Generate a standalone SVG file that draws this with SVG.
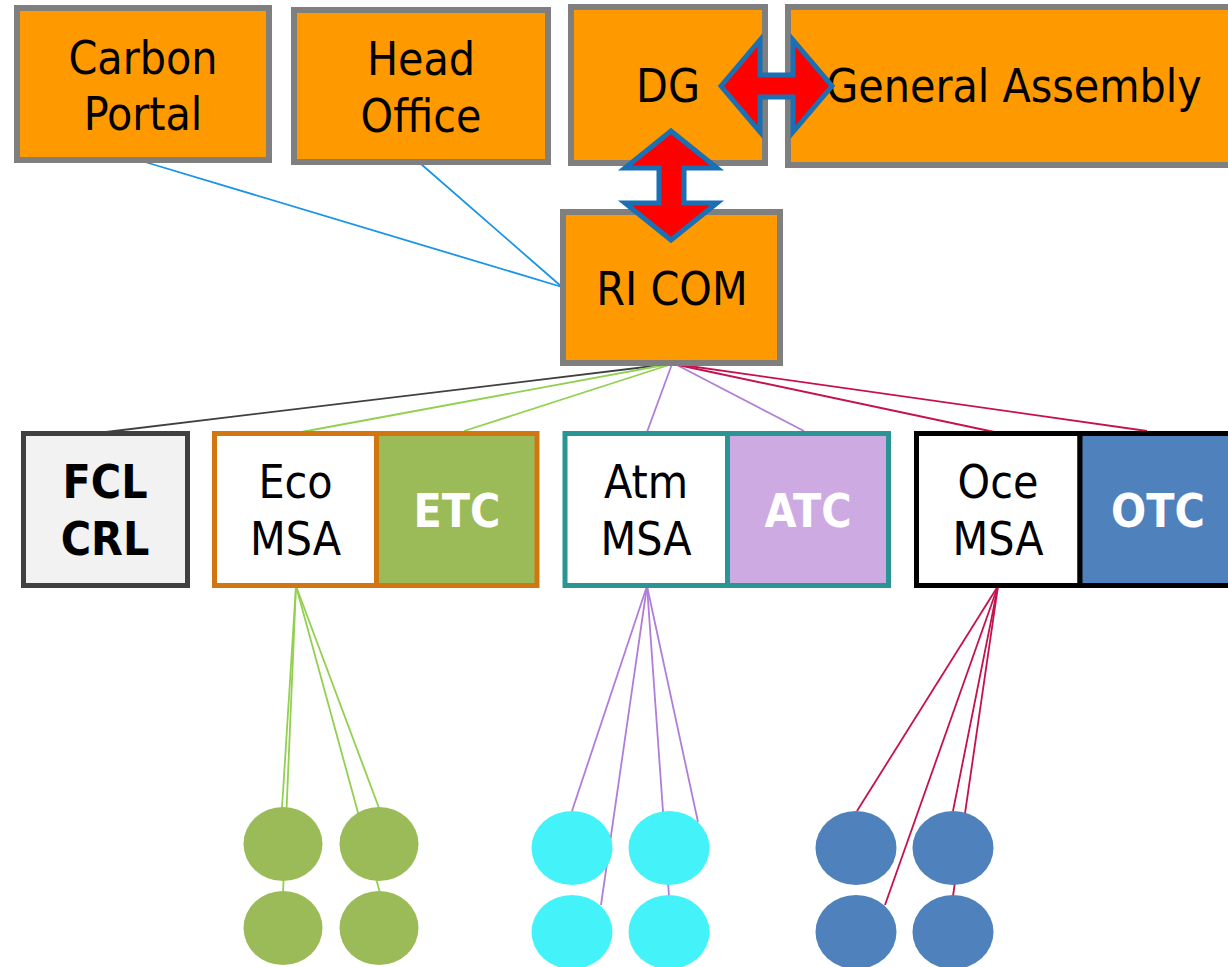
<svg xmlns="http://www.w3.org/2000/svg" width="1228" height="967" viewBox="0 0 1228 967">
  <style>
    text { font-family: "DejaVu Sans Condensed", "DejaVu Sans", sans-serif; font-stretch: condensed; font-size: 46px; text-anchor: middle; fill: #000; }
    .b { font-weight: bold; }
    .w { fill: #fff; font-weight: bold; }
    .top { fill: #ff9900; stroke: #7f7f7f; stroke-width: 6; }
    .dbl { fill: #ff0000; stroke: #1b6fb3; stroke-width: 5; stroke-linejoin: miter; }
    .c { fill: none; stroke-width: 1.8; }
    .blue { stroke: #1a94e6; }
    .grey { stroke: #404040; }
    .green { stroke: #92d050; }
    .purple { stroke: #b07ed8; }
    .red { stroke: #c4124f; }
  </style>

  <!-- connectors -->
  <g id="connectors">
    <line class="c blue" x1="145" y1="162" x2="562" y2="287"/>
    <line class="c blue" x1="421" y1="164" x2="562" y2="287"/>
    <line class="c grey" x1="670" y1="364" x2="106" y2="432"/>
    <line class="c green" x1="670" y1="364" x2="296" y2="433"/>
    <line class="c green" x1="672" y1="364" x2="464" y2="431"/>
    <line class="c purple" x1="672" y1="364" x2="647" y2="432"/>
    <line class="c purple" x1="675" y1="364" x2="804" y2="431"/>
    <line class="c red" x1="678" y1="365" x2="999" y2="433"/>
    <line class="c red" x1="682" y1="365" x2="1147" y2="431"/>

    <line class="c green" x1="296" y1="586" x2="282" y2="808"/>
    <line class="c green" x1="296" y1="586" x2="283" y2="893"/>
    <line class="c green" x1="296" y1="586" x2="380" y2="893"/>
    <line class="c green" x1="296" y1="586" x2="379" y2="808"/>

    <line class="c purple" x1="647" y1="586" x2="572" y2="811"/>
    <line class="c purple" x1="647" y1="586" x2="601" y2="905"/>
    <line class="c purple" x1="647" y1="586" x2="669" y2="896"/>
    <line class="c purple" x1="647" y1="586" x2="698" y2="822"/>

    <line class="c red" x1="998" y1="586" x2="857" y2="811"/>
    <line class="c red" x1="998" y1="586" x2="885" y2="905"/>
    <line class="c red" x1="998" y1="586" x2="953" y2="811"/>
    <line class="c red" x1="998" y1="586" x2="953" y2="896"/>
  </g>

  <!-- governance bodies -->
  <g id="carbon-portal">
    <rect class="top" x="17" y="8" width="252" height="152"/>
    <text x="143" y="74">Carbon</text>
    <text x="143" y="130">Portal</text>
  </g>
  <g id="head-office">
    <rect class="top" x="294" y="10" width="254" height="152"/>
    <text x="421" y="75">Head</text>
    <text x="421" y="132">Office</text>
  </g>
  <g id="dg">
    <rect class="top" x="571" y="7" width="194" height="156"/>
    <text x="668" y="102">DG</text>
  </g>
  <g id="general-assembly">
    <rect class="top" x="788" y="7" width="460" height="158"/>
    <text x="1014" y="102">General Assembly</text>
  </g>
  <g id="ri-com">
    <rect class="top" x="563" y="212" width="217" height="151"/>
    <text x="672" y="305">RI COM</text>
  </g>

  <!-- two-way arrows -->
  <g id="arrow-dg-ga">
    <polygon class="dbl" points="721,86 760,40 760,75 793,75 793,40 832,86 793,132 793,97 760,97 760,132"/>
  </g>
  <g id="arrow-dg-ricom">
    <polygon class="dbl" points="671,131 717,168 684,168 684,203 717,203 671,240 625,203 659,203 659,168 625,168"/>
  </g>

  <!-- thematic centres -->
  <g id="fcl-crl">
    <rect x="23.5" y="433.5" width="164" height="152" fill="#f2f2f2" stroke="#404040" stroke-width="5"/>
    <text class="b" x="105" y="498">FCL</text>
    <text class="b" x="105" y="555">CRL</text>
  </g>
  <g id="eco">
    <rect x="214.5" y="433.5" width="162" height="152" fill="#fff" stroke="#d27611" stroke-width="5"/>
    <rect x="376.5" y="433.5" width="160.5" height="152" fill="#9bbb59" stroke="#d27611" stroke-width="5"/>
    <text x="295.5" y="498">Eco</text>
    <text x="295.5" y="555">MSA</text>
    <text class="w" x="457" y="527">ETC</text>
  </g>
  <g id="atm">
    <rect x="565" y="433.5" width="162.5" height="152" fill="#fff" stroke="#2b9494" stroke-width="5"/>
    <rect x="727.5" y="433.5" width="161" height="152" fill="#cdabe2" stroke="#2b9494" stroke-width="5"/>
    <text x="646" y="498">Atm</text>
    <text x="646" y="555">MSA</text>
    <text class="w" x="808" y="527">ATC</text>
  </g>
  <g id="oce">
    <rect x="916.5" y="433.5" width="163.5" height="152" fill="#fff" stroke="#000" stroke-width="5"/>
    <rect x="1080" y="433.5" width="170" height="152" fill="#4f81bd" stroke="#000" stroke-width="5"/>
    <text x="998" y="498">Oce</text>
    <text x="998" y="555">MSA</text>
    <text class="w" x="1158" y="527">OTC</text>
  </g>

  <!-- stations -->
  <g id="eco-stations" fill="#9bbb59">
    <ellipse cx="283" cy="844" rx="39.5" ry="37"/>
    <ellipse cx="379" cy="844" rx="39.5" ry="37"/>
    <ellipse cx="283" cy="928" rx="39.5" ry="37"/>
    <ellipse cx="379" cy="928" rx="39.5" ry="37"/>
  </g>
  <g id="atm-stations" fill="#44f3fa">
    <ellipse cx="572" cy="848" rx="40.5" ry="37"/>
    <ellipse cx="669" cy="848" rx="40.5" ry="37"/>
    <ellipse cx="572" cy="932" rx="40.5" ry="37"/>
    <ellipse cx="669" cy="932" rx="40.5" ry="37"/>
  </g>
  <g id="oce-stations" fill="#4f81bd">
    <ellipse cx="856" cy="848" rx="40.5" ry="37"/>
    <ellipse cx="953" cy="848" rx="40.5" ry="37"/>
    <ellipse cx="856" cy="932" rx="40.5" ry="37"/>
    <ellipse cx="953" cy="932" rx="40.5" ry="37"/>
  </g>
</svg>
